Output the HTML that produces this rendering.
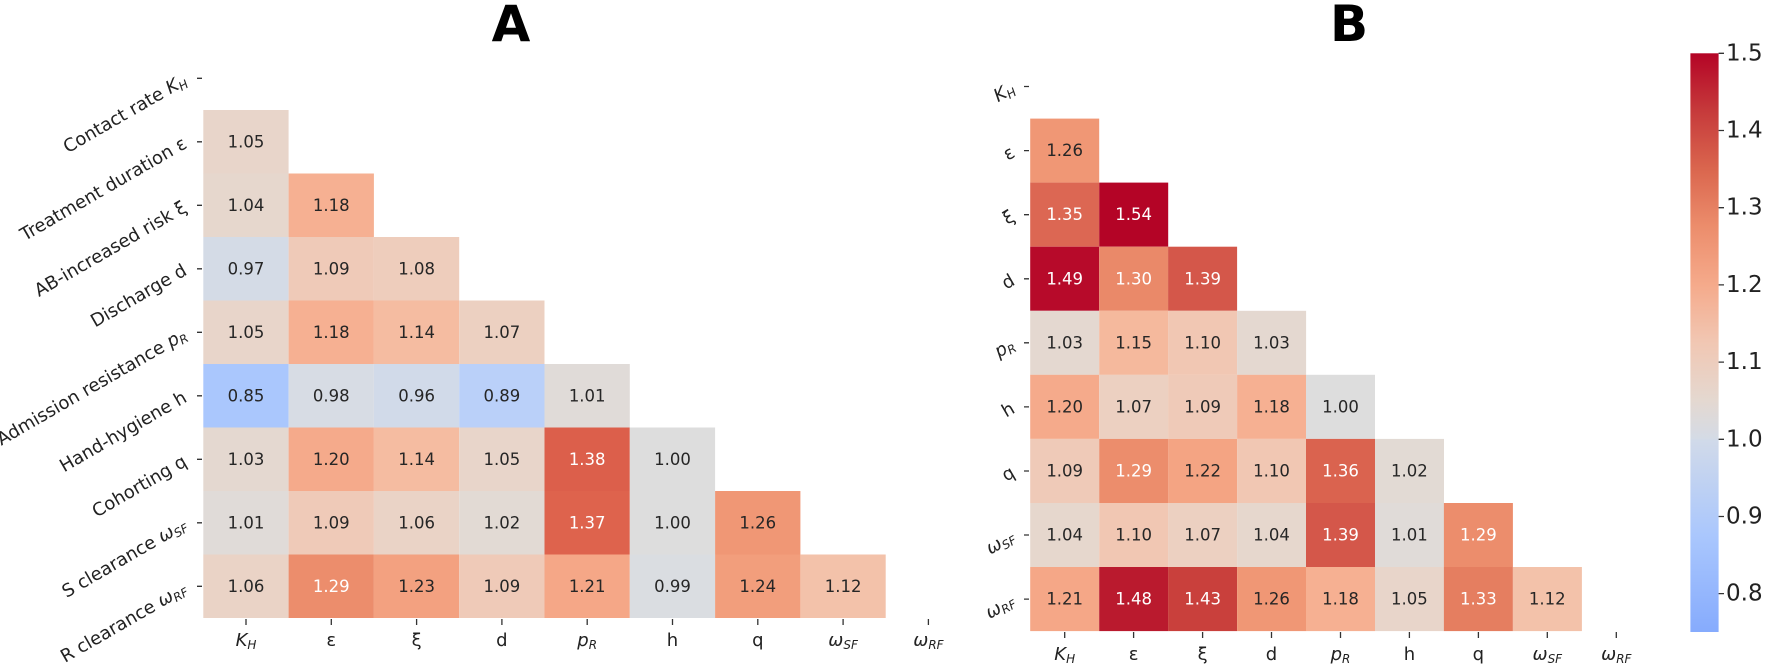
<!DOCTYPE html>
<html><head><meta charset="utf-8"><style>
html,body{margin:0;padding:0;background:#fff}
svg{display:block;font-family:"DejaVu Sans","Liberation Sans",sans-serif}
.v{font-size:16.5px;text-anchor:middle;dominant-baseline:central;fill:#262626}
.w{fill:#fff}
.yl{font-size:18px;text-anchor:end;fill:#222}
.xl{font-size:18px;text-anchor:middle;fill:#222}
.it{font-style:italic}
.t{font-family:"DejaVu Sans",sans-serif;font-weight:bold;font-size:50px;text-anchor:middle}
.ct{font-size:23px;fill:#222;dominant-baseline:central}
</style></head><body>
<svg width="1770" height="669" viewBox="0 0 1770 669">
<defs>
<linearGradient id="cb" x1="0" y1="1" x2="0" y2="0">
<stop offset="0" stop-color="#86abfd"/>
<stop offset="0.167" stop-color="#aac7fd"/>
<stop offset="0.333" stop-color="#d1dae9"/>
<stop offset="0.333" stop-color="#d4dbe6"/>
<stop offset="0.4" stop-color="#e4d8d0"/>
<stop offset="0.5" stop-color="#f1c7b3"/>
<stop offset="0.6" stop-color="#f5aa8b"/>
<stop offset="0.7" stop-color="#ec8d6c"/>
<stop offset="0.8" stop-color="#da664e"/>
<stop offset="0.9" stop-color="#c63a3b"/>
<stop offset="1" stop-color="#b40426"/>
</linearGradient>
</defs>
<text class="t" x="511" y="41">A</text>
<text class="t" x="1349" y="41">B</text>

<g id="A">
<rect x="203.3" y="110" width="85.3" height="63.5" fill="#e8d5ca"/>
<rect x="203.3" y="173.5" width="85.3" height="63.5" fill="#e6d7cd"/><rect x="288.6" y="173.5" width="85.3" height="63.5" fill="#f6b092"/>
<rect x="203.3" y="237" width="85.3" height="63.5" fill="#d4dbe6"/><rect x="288.6" y="237" width="85.3" height="63.5" fill="#efcab8"/><rect x="373.9" y="237" width="85.3" height="63.5" fill="#eecdbc"/>
<rect x="203.3" y="300.5" width="85.3" height="63.5" fill="#e8d5ca"/><rect x="288.6" y="300.5" width="85.3" height="63.5" fill="#f6b092"/><rect x="373.9" y="300.5" width="85.3" height="63.5" fill="#f5bca1"/><rect x="459.2" y="300.5" width="85.3" height="63.5" fill="#ecd0c1"/>
<rect x="203.3" y="364" width="85.3" height="63.5" fill="#aac7fd"/><rect x="288.6" y="364" width="85.3" height="63.5" fill="#d7dce4"/><rect x="373.9" y="364" width="85.3" height="63.5" fill="#d1dae9"/><rect x="459.2" y="364" width="85.3" height="63.5" fill="#bad0f9"/><rect x="544.5" y="364" width="85.3" height="63.5" fill="#e0dbd8"/>
<rect x="203.3" y="427.5" width="85.3" height="63.5" fill="#e4d8d0"/><rect x="288.6" y="427.5" width="85.3" height="63.5" fill="#f5aa8b"/><rect x="373.9" y="427.5" width="85.3" height="63.5" fill="#f5bca1"/><rect x="459.2" y="427.5" width="85.3" height="63.5" fill="#e8d5ca"/><rect x="544.5" y="427.5" width="85.3" height="63.5" fill="#dc5f4b"/><rect x="629.8" y="427.5" width="85.3" height="63.5" fill="#dddddd"/>
<rect x="203.3" y="491" width="85.3" height="63.5" fill="#e0dbd8"/><rect x="288.6" y="491" width="85.3" height="63.5" fill="#efcab8"/><rect x="373.9" y="491" width="85.3" height="63.5" fill="#ead3c6"/><rect x="459.2" y="491" width="85.3" height="63.5" fill="#e2dad4"/><rect x="544.5" y="491" width="85.3" height="63.5" fill="#de634d"/><rect x="629.8" y="491" width="85.3" height="63.5" fill="#dddddd"/><rect x="715.1" y="491" width="85.3" height="63.5" fill="#f09775"/>
<rect x="203.3" y="554.5" width="85.3" height="63.5" fill="#ead3c6"/><rect x="288.6" y="554.5" width="85.3" height="63.5" fill="#ec8d6c"/><rect x="373.9" y="554.5" width="85.3" height="63.5" fill="#f3a180"/><rect x="459.2" y="554.5" width="85.3" height="63.5" fill="#efcab8"/><rect x="544.5" y="554.5" width="85.3" height="63.5" fill="#f5a787"/><rect x="629.8" y="554.5" width="85.3" height="63.5" fill="#dadde1"/><rect x="715.1" y="554.5" width="85.3" height="63.5" fill="#f29e7c"/><rect x="800.4" y="554.5" width="85.3" height="63.5" fill="#f3c2aa"/>
</g>
<g class="v">
<text x="246" y="141.8">1.05</text>
<text x="246" y="205.3">1.04</text><text x="331.3" y="205.3">1.18</text>
<text x="246" y="268.8">0.97</text><text x="331.3" y="268.8">1.09</text><text x="416.6" y="268.8">1.08</text>
<text x="246" y="332.3">1.05</text><text x="331.3" y="332.3">1.18</text><text x="416.6" y="332.3">1.14</text><text x="501.9" y="332.3">1.07</text>
<text x="246" y="395.8">0.85</text><text x="331.3" y="395.8">0.98</text><text x="416.6" y="395.8">0.96</text><text x="501.9" y="395.8">0.89</text><text x="587.2" y="395.8">1.01</text>
<text x="246" y="459.3">1.03</text><text x="331.3" y="459.3">1.20</text><text x="416.6" y="459.3">1.14</text><text x="501.9" y="459.3">1.05</text><text class="w" x="587.2" y="459.3">1.38</text><text x="672.5" y="459.3">1.00</text>
<text x="246" y="522.8">1.01</text><text x="331.3" y="522.8">1.09</text><text x="416.6" y="522.8">1.06</text><text x="501.9" y="522.8">1.02</text><text class="w" x="587.2" y="522.8">1.37</text><text x="672.5" y="522.8">1.00</text><text x="757.8" y="522.8">1.26</text>
<text x="246" y="586.3">1.06</text><text class="w" x="331.3" y="586.3">1.29</text><text x="416.6" y="586.3">1.23</text><text x="501.9" y="586.3">1.09</text><text x="587.2" y="586.3">1.21</text><text x="672.5" y="586.3">0.99</text><text x="757.8" y="586.3">1.24</text><text x="843.1" y="586.3">1.12</text>
</g>
<g stroke="#333" stroke-width="1.3">
<path d="M197 78.3H202M197 141.8H202M197 205.3H202M197 268.8H202M197 332.3H202M197 395.8H202M197 459.3H202M197 522.8H202M197 586.3H202"/>
<path d="M246 619V625M331.3 619V625M416.6 619V625M501.9 619V625M587.2 619V625M672.5 619V625M757.8 619V625M843.1 619V625M928.4 619V625"/>
</g>
<g class="yl">
<text transform="translate(188,84) rotate(-30)">Contact rate <tspan class="it">K</tspan><tspan class="it" font-size="12" dy="3">H</tspan></text>
<text transform="translate(188,147) rotate(-30)">Treatment duration ε</text>
<text transform="translate(188,211) rotate(-30)">AB-increased risk ξ</text>
<text transform="translate(188,274) rotate(-30)">Discharge d</text>
<text transform="translate(188,338) rotate(-30)">Admission resistance <tspan class="it">p</tspan><tspan class="it" font-size="12" dy="3">R</tspan></text>
<text transform="translate(188,401) rotate(-30)">Hand-hygiene h</text>
<text transform="translate(188,465) rotate(-30)">Cohorting q</text>
<text transform="translate(188,528) rotate(-30)">S clearance <tspan class="it">ω</tspan><tspan class="it" font-size="12" dy="3">SF</tspan></text>
<text transform="translate(188,592) rotate(-30)">R clearance <tspan class="it">ω</tspan><tspan class="it" font-size="12" dy="3">RF</tspan></text>
</g>
<g class="xl">
<text x="246" y="646"><tspan class="it">K</tspan><tspan class="it" font-size="12" dy="3">H</tspan></text>
<text x="331.3" y="646">ε</text><text x="416.6" y="646">ξ</text><text x="501.9" y="646">d</text>
<text x="587.2" y="646"><tspan class="it">p</tspan><tspan class="it" font-size="12" dy="3">R</tspan></text>
<text x="672.5" y="646">h</text><text x="757.8" y="646">q</text>
<text x="843.1" y="646"><tspan class="it">ω</tspan><tspan class="it" font-size="12" dy="3">SF</tspan></text>
<text x="928.4" y="646"><tspan class="it">ω</tspan><tspan class="it" font-size="12" dy="3">RF</tspan></text>
</g>

<g>
<rect x="1030.2" y="118.6" width="69" height="64.1" fill="#f09775"/>
<rect x="1030.2" y="182.6" width="69" height="64.1" fill="#dc6753"/><rect x="1099.2" y="182.6" width="69" height="64.1" fill="#b40426"/>
<rect x="1030.2" y="246.7" width="69" height="64.1" fill="#b70a2a"/><rect x="1099.2" y="246.7" width="69" height="64.1" fill="#ea8969"/><rect x="1168.1" y="246.7" width="69" height="64.1" fill="#d4574a"/>
<rect x="1030.2" y="310.8" width="69" height="64.1" fill="#e4d8d0"/><rect x="1099.2" y="310.8" width="69" height="64.1" fill="#f5b99d"/><rect x="1168.1" y="310.8" width="69" height="64.1" fill="#f1c7b3"/><rect x="1237.1" y="310.8" width="69" height="64.1" fill="#e4d8d0"/>
<rect x="1030.2" y="374.8" width="69" height="64.1" fill="#f5aa8b"/><rect x="1099.2" y="374.8" width="69" height="64.1" fill="#ecd0c1"/><rect x="1168.1" y="374.8" width="69" height="64.1" fill="#efcab8"/><rect x="1237.1" y="374.8" width="69" height="64.1" fill="#f6b092"/><rect x="1306" y="374.8" width="69" height="64.1" fill="#dddddd"/>
<rect x="1030.2" y="438.9" width="69" height="64.1" fill="#efcab8"/><rect x="1099.2" y="438.9" width="69" height="64.1" fill="#ec8d6c"/><rect x="1168.1" y="438.9" width="69" height="64.1" fill="#f4a483"/><rect x="1237.1" y="438.9" width="69" height="64.1" fill="#f1c7b3"/><rect x="1306" y="438.9" width="69" height="64.1" fill="#da634f"/><rect x="1375" y="438.9" width="69" height="64.1" fill="#e2dad4"/>
<rect x="1030.2" y="503" width="69" height="64.1" fill="#e6d7cd"/><rect x="1099.2" y="503" width="69" height="64.1" fill="#f1c7b3"/><rect x="1168.1" y="503" width="69" height="64.1" fill="#ecd0c1"/><rect x="1237.1" y="503" width="69" height="64.1" fill="#e6d7cd"/><rect x="1306" y="503" width="69" height="64.1" fill="#d4574a"/><rect x="1375" y="503" width="69" height="64.1" fill="#e0dbd8"/><rect x="1443.9" y="503" width="69" height="64.1" fill="#ec8d6c"/>
<rect x="1030.2" y="567" width="69" height="64.1" fill="#f5a787"/><rect x="1099.2" y="567" width="69" height="64.1" fill="#ba1a2e"/><rect x="1168.1" y="567" width="69" height="64.1" fill="#c9403c"/><rect x="1237.1" y="567" width="69" height="64.1" fill="#f09775"/><rect x="1306" y="567" width="69" height="64.1" fill="#f6b092"/><rect x="1375" y="567" width="69" height="64.1" fill="#e8d5ca"/><rect x="1443.9" y="567" width="69" height="64.1" fill="#e57e60"/><rect x="1512.9" y="567" width="69" height="64.1" fill="#f3c2aa"/>
</g>
<g class="v">
<text x="1064.7" y="150.6">1.26</text>
<text class="w" x="1064.7" y="214.7">1.35</text><text class="w" x="1133.6" y="214.7">1.54</text>
<text class="w" x="1064.7" y="278.8">1.49</text><text class="w" x="1133.6" y="278.8">1.30</text><text class="w" x="1202.6" y="278.8">1.39</text>
<text x="1064.7" y="342.8">1.03</text><text x="1133.6" y="342.8">1.15</text><text x="1202.6" y="342.8">1.10</text><text x="1271.5" y="342.8">1.03</text>
<text x="1064.7" y="406.9">1.20</text><text x="1133.6" y="406.9">1.07</text><text x="1202.6" y="406.9">1.09</text><text x="1271.5" y="406.9">1.18</text><text x="1340.5" y="406.9">1.00</text>
<text x="1064.7" y="471">1.09</text><text class="w" x="1133.6" y="471">1.29</text><text x="1202.6" y="471">1.22</text><text x="1271.5" y="471">1.10</text><text class="w" x="1340.5" y="471">1.36</text><text x="1409.4" y="471">1.02</text>
<text x="1064.7" y="535">1.04</text><text x="1133.6" y="535">1.10</text><text x="1202.6" y="535">1.07</text><text x="1271.5" y="535">1.04</text><text class="w" x="1340.5" y="535">1.39</text><text x="1409.4" y="535">1.01</text><text class="w" x="1478.4" y="535">1.29</text>
<text x="1064.7" y="599.1">1.21</text><text class="w" x="1133.6" y="599.1">1.48</text><text class="w" x="1202.6" y="599.1">1.43</text><text x="1271.5" y="599.1">1.26</text><text x="1340.5" y="599.1">1.18</text><text x="1409.4" y="599.1">1.05</text><text class="w" x="1478.4" y="599.1">1.33</text><text x="1547.3" y="599.1">1.12</text>
</g>
<g stroke="#333" stroke-width="1.3">
<path d="M1024 86.5H1029M1024 150.6H1029M1024 214.7H1029M1024 278.8H1029M1024 342.8H1029M1024 406.9H1029M1024 471H1029M1024 535H1029M1024 599.1H1029"/>
<path d="M1064.7 632V638M1133.6 632V638M1202.6 632V638M1271.5 632V638M1340.5 632V638M1409.4 632V638M1478.4 632V638M1547.3 632V638M1616.3 632V638"/>
</g>
<g class="yl">
<text transform="translate(1016,92) rotate(-30)"><tspan class="it">K</tspan><tspan class="it" font-size="12" dy="3">H</tspan></text>
<text transform="translate(1016,156) rotate(-30)">ε</text>
<text transform="translate(1016,220) rotate(-30)">ξ</text>
<text transform="translate(1016,284) rotate(-30)">d</text>
<text transform="translate(1016,348) rotate(-30)"><tspan class="it">p</tspan><tspan class="it" font-size="12" dy="3">R</tspan></text>
<text transform="translate(1016,412) rotate(-30)">h</text>
<text transform="translate(1016,476) rotate(-30)">q</text>
<text transform="translate(1016,540) rotate(-30)"><tspan class="it">ω</tspan><tspan class="it" font-size="12" dy="3">SF</tspan></text>
<text transform="translate(1016,604) rotate(-30)"><tspan class="it">ω</tspan><tspan class="it" font-size="12" dy="3">RF</tspan></text>
</g>
<g class="xl">
<text x="1064.7" y="660"><tspan class="it">K</tspan><tspan class="it" font-size="12" dy="3">H</tspan></text>
<text x="1133.6" y="660">ε</text><text x="1202.6" y="660">ξ</text><text x="1271.5" y="660">d</text>
<text x="1340.5" y="660"><tspan class="it">p</tspan><tspan class="it" font-size="12" dy="3">R</tspan></text>
<text x="1409.4" y="660">h</text><text x="1478.4" y="660">q</text>
<text x="1547.3" y="660"><tspan class="it">ω</tspan><tspan class="it" font-size="12" dy="3">SF</tspan></text>
<text x="1616.3" y="660"><tspan class="it">ω</tspan><tspan class="it" font-size="12" dy="3">RF</tspan></text>
</g>

<rect x="1690.4" y="53.3" width="28.2" height="578.7" fill="url(#cb)"/>
<g stroke="#333" stroke-width="1.3">
<path d="M1718.6 53.3H1724M1718.6 130.5H1724M1718.6 207.7H1724M1718.6 284.9H1724M1718.6 362.1H1724M1718.6 439.3H1724M1718.6 516.5H1724M1718.6 593.6H1724"/>
</g>
<g class="ct">
<text x="1726" y="53.3">1.5</text><text x="1726" y="130.5">1.4</text><text x="1726" y="207.7">1.3</text><text x="1726" y="284.9">1.2</text>
<text x="1726" y="362.1">1.1</text><text x="1726" y="439.3">1.0</text><text x="1726" y="516.5">0.9</text><text x="1726" y="593.6">0.8</text>
</g>
</svg>
</body></html>
